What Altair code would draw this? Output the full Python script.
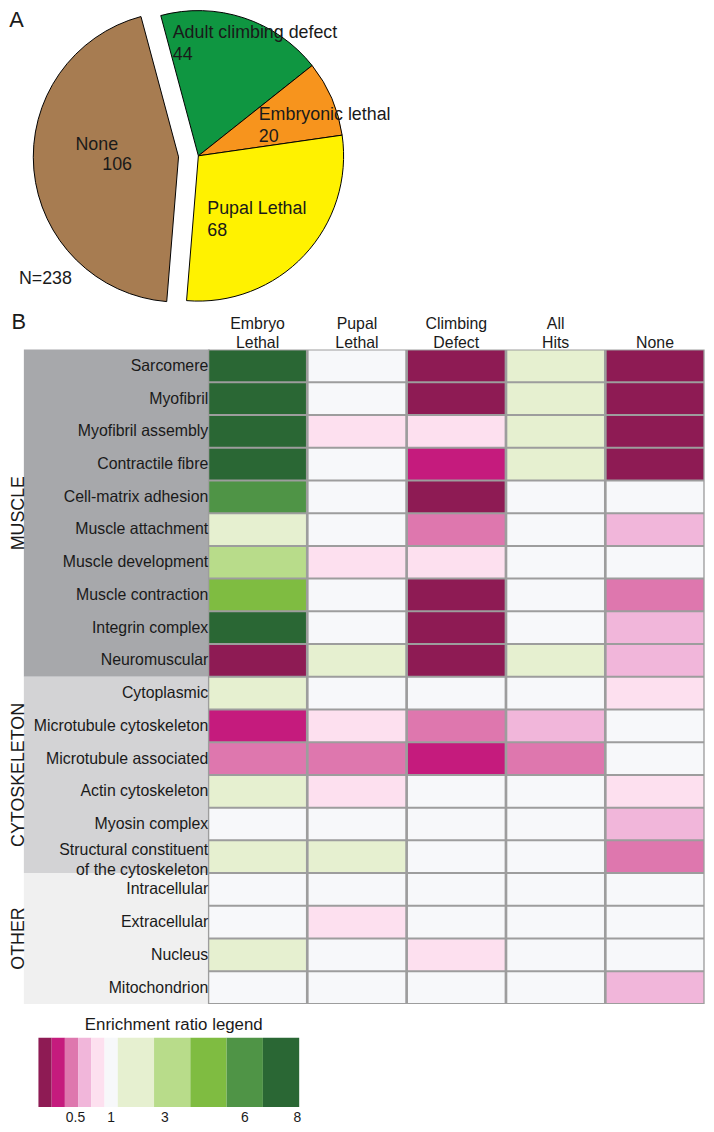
import math
import altair as alt
import pandas as pd

FONT = "Liberation Sans"
INK = "#1a1a1a"

# ---------------- Panel A : pie ----------------
pie_labels = ["Adult climbing defect", "Embryonic lethal", "Pupal Lethal", "None"]
pie_counts = [44, 20, 68, 106]
pie_colors = ["#0f9641", "#f7941d", "#fff200", "#a77c51"]

# ---------------- Panel B : heatmap ----------------
col_names = ["Embryo\nLethal", "Pupal\nLethal", "Climbing\nDefect", "All\nHits", "None"]
terms = [
    "Sarcomere", "Myofibril", "Myofibril assembly", "Contractile fibre",
    "Cell-matrix adhesion", "Muscle attachment", "Muscle development",
    "Muscle contraction", "Integrin complex", "Neuromuscular",
    "Cytoplasmic", "Microtubule cytoskeleton", "Microtubule associated",
    "Actin cytoskeleton", "Myosin complex",
    "Structural constituent\nof the cytoskeleton",
    "Intracellular", "Extracellular", "Nucleus", "Mitochondrion",
]
term_groups = ["MUSCLE"] * 10 + ["CYTOSKELETON"] * 6 + ["OTHER"] * 4
groups = ["MUSCLE", "CYTOSKELETON", "OTHER"]
group_colors = ["#a7a8ab", "#d3d3d5", "#f0f0f0"]

# enrichment class per term (0 = strongest depletion ... 5 = ~1 ... 10 = strongest enrichment)
embryo_lethal   = [10, 10, 10, 10, 9, 6, 7, 8, 10, 0, 6, 1, 2, 6, 5, 6, 5, 5, 6, 5]
pupal_lethal    = [5, 5, 4, 5, 5, 5, 4, 5, 5, 6, 5, 4, 2, 4, 5, 6, 5, 4, 5, 5]
climbing_defect = [0, 0, 4, 1, 0, 2, 4, 0, 0, 0, 5, 2, 1, 5, 5, 5, 5, 5, 4, 5]
all_hits        = [6, 6, 6, 6, 5, 5, 5, 5, 5, 6, 5, 3, 2, 5, 5, 5, 5, 5, 5, 5]
none_col        = [0, 0, 0, 0, 5, 3, 5, 2, 3, 3, 4, 5, 5, 4, 3, 2, 5, 5, 5, 3]

class_colors = ["#8e1b54", "#c51b7d", "#de77ae", "#f1b6da", "#fde0ef", "#f7f8fa",
                "#e6f0d0", "#b8dc8a", "#7fbc41", "#4f9446", "#2a6734"]

legend_title = "Enrichment ratio legend"
legend_tick_pos = [2.8, 5.5, 7.3, 9.5, 10.95]
legend_tick_labels = ["0.5", "1", "3", "6", "8"]

# ---------------- tables ----------------
total = sum(pie_counts)
pie_df = pd.DataFrame({"label": pie_labels, "count": pie_counts})
pie_df["end"] = pie_df["count"].cumsum()
pie_df["start"] = pie_df["end"] - pie_df["count"]
pie_df["mid"] = (pie_df["start"] + pie_df["end"]) / 2
pie_df["txt"] = pie_df["label"] + "\n" + pie_df["count"].astype(str)
pie_df["cnt"] = pie_df["count"].astype(str)

columns_vals = [embryo_lethal, pupal_lethal, climbing_defect, all_hits, none_col]
rows = []
for j, vals in enumerate(columns_vals):
    for i, v in enumerate(vals):
        rows.append({"r0": i, "r1": i + 1, "c0": j, "c1": j + 1, "cls": v})
heat_df = pd.DataFrame(rows)
bg_df = pd.DataFrame({"r0": [0], "r1": [len(terms)], "c0": [0], "c1": [len(col_names)]})
term_df = pd.DataFrame({"term": terms, "rm": [i + 0.5 for i in range(len(terms))],
                        "multi": ["\n" in t for t in terms]})
grp_rows = []
for g in groups:
    idx = [i for i, tg in enumerate(term_groups) if tg == g]
    grp_rows.append({"group": g, "r0": min(idx), "r1": max(idx) + 1,
                     "gm": (min(idx) + max(idx) + 1) / 2})
grp_df = pd.DataFrame(grp_rows)
head_df = pd.DataFrame({
    "cm": [j + 0.5 for j in range(len(col_names))],
    "h1": [c.split("\n")[0] if "\n" in c else "" for c in col_names],
    "h2": [c.split("\n")[-1] for c in col_names],
})
leg_df = pd.DataFrame({"i0": list(range(len(class_colors))),
                       "i1": [i + 1 for i in range(len(class_colors))],
                       "cls": list(range(len(class_colors)))})
tick_df = pd.DataFrame({"pos": legend_tick_pos, "lab": legend_tick_labels})
note_df = pd.DataFrame({"A": ["A"], "B": ["B"], "N": [f"N={total}"], "T": [legend_title]})

# ---------------- scales ----------------
A0 = 2 * math.pi - math.radians(15)
theta_scale = alt.Scale(domain=[0, total], range=[A0, A0 + 2 * math.pi])
pie_color = alt.Scale(domain=pie_labels, range=pie_colors)
xs = alt.Scale(domain=[0, len(col_names)], range=[201.65, 702.65], nice=False, zero=False)
ys = alt.Scale(domain=[0, len(terms)], range=[339.7, 999.7], nice=False, zero=False)
cls_scale = alt.Scale(domain=list(range(len(class_colors))), range=class_colors)
grp_scale = alt.Scale(domain=groups, range=group_colors)
ls = alt.Scale(domain=[0, 6, 11], range=[30.7, 110.7, 293.7], nice=False, zero=False)

MAIN = (192, 144.3)
NONE_C = (172, 145.3)
R = 146.5

layers = []

# pie slices
layers.append(
    alt.Chart(pie_df).transform_filter(alt.datum.label != "None")
    .mark_arc(outerRadius=R, stroke="black", strokeWidth=1, x=MAIN[0], y=MAIN[1])
    .encode(theta=alt.Theta("start:Q", scale=theta_scale), theta2="end:Q",
            color=alt.Color("label:N", scale=pie_color, legend=None))
)
layers.append(
    alt.Chart(pie_df).transform_filter(alt.datum.label == "None")
    .mark_arc(outerRadius=R, stroke="black", strokeWidth=1, x=NONE_C[0], y=NONE_C[1])
    .encode(theta=alt.Theta("start:Q", scale=theta_scale), theta2="end:Q",
            color=alt.Color("label:N", scale=pie_color, legend=None))
)


def pie_text(label, field, center, r, dx, dy):
    return (
        alt.Chart(pie_df).transform_filter(alt.datum.label == label)
        .mark_text(x=center[0], y=center[1], radius=r, dx=dx, dy=dy, align="left",
                   baseline="alphabetic", fontSize=18, font=FONT, color=INK,
                   lineHeight=22.5, lineBreak="\n")
        .encode(theta=alt.Theta("mid:Q", scale=theta_scale), text=f"{field}:N")
    )


layers.append(pie_text("Adult climbing defect", "txt", MAIN, 120, -63.5, -5))
layers.append(pie_text("Embryonic lethal", "txt", MAIN, 75, -8, -6.5))
layers.append(pie_text("Pupal Lethal", "txt", MAIN, 70, -42, 10.7))
layers.append(pie_text("None", "label", NONE_C, 100, -4.4, -16.3))
layers.append(pie_text("None", "cnt", NONE_C, 80, 2.7, 6.5))

# annotations
layers.append(alt.Chart(note_df).mark_text(x=1.3, y=14.3, align="left", baseline="alphabetic",
                                           fontSize=22, font=FONT, color=INK).encode(text="A:N"))
layers.append(alt.Chart(note_df).mark_text(x=3.6, y=318.7, align="left", baseline="alphabetic",
                                           fontSize=22, font=FONT, color=INK).encode(text="B:N"))
layers.append(alt.Chart(note_df).mark_text(x=11, y=274, align="left", baseline="alphabetic",
                                           fontSize=18, font=FONT, color=INK).encode(text="N:N"))

# heatmap: group panels
layers.append(
    alt.Chart(grp_df).mark_rect(x=16, x2=203.65)
    .encode(y=alt.Y("r0:Q", scale=ys, axis=None), y2="r1:Q",
            color=alt.Color("group:N", scale=grp_scale, legend=None))
)
layers.append(
    alt.Chart(grp_df).mark_text(x=16.3, angle=270, align="center", baseline="alphabetic",
                                fontSize=18, font=FONT, color=INK)
    .encode(y=alt.Y("gm:Q", scale=ys, axis=None), text="group:N")
)
# grid background + cells
layers.append(
    alt.Chart(bg_df).mark_rect(color="#9d9d9d")
    .encode(x=alt.X("c0:Q", scale=xs, axis=None), x2="c1:Q",
            y=alt.Y("r0:Q", scale=ys, axis=None), y2="r1:Q")
)
layers.append(
    alt.Chart(heat_df).mark_rect(xOffset=1.35, x2Offset=-1.35, yOffset=1, y2Offset=-1)
    .encode(x=alt.X("c0:Q", scale=xs, axis=None), x2="c1:Q",
            y=alt.Y("r0:Q", scale=ys, axis=None), y2="r1:Q",
            color=alt.Color("cls:O", scale=cls_scale, legend=None))
)
# row labels (single-line, then the two-line one)
layers.append(
    alt.Chart(term_df).transform_filter("!datum.multi")
    .mark_text(x=202, align="right", baseline="middle", fontSize=16,
               font=FONT, color=INK)
    .encode(y=alt.Y("rm:Q", scale=ys, axis=None), text="term:N")
)
layers.append(
    alt.Chart(term_df).transform_filter("datum.multi")
    .mark_text(x=202, dy=-7, align="right", baseline="middle", fontSize=16,
               font=FONT, color=INK, lineHeight=20, lineBreak="\n")
    .encode(y=alt.Y("rm:Q", scale=ys, axis=None), text="term:N")
)
# column headers
layers.append(
    alt.Chart(head_df).mark_text(y=319.3, align="center", baseline="alphabetic", fontSize=16,
                                 font=FONT, color=INK)
    .encode(x=alt.X("cm:Q", scale=xs, axis=None), text="h1:N")
)
layers.append(
    alt.Chart(head_df).mark_text(y=338, align="center", baseline="alphabetic", fontSize=16,
                                 font=FONT, color=INK)
    .encode(x=alt.X("cm:Q", scale=xs, axis=None), text="h2:N")
)

# legend
layers.append(
    alt.Chart(note_df).mark_text(x=167.2, y=1026.3, align="center", baseline="alphabetic",
                                 fontSize=17, font=FONT, color=INK).encode(text="T:N")
)
layers.append(
    alt.Chart(leg_df).mark_rect(y=1033.7, y2=1103.7)
    .encode(x=alt.X("i0:Q", scale=ls, axis=None), x2="i1:Q",
            color=alt.Color("cls:O", scale=cls_scale, legend=None))
)
layers.append(
    alt.Chart(tick_df).mark_text(y=1118.7, align="center", baseline="alphabetic", fontSize=14,
                                 font=FONT, color=INK)
    .encode(x=alt.X("pos:Q", scale=ls, axis=None), text="lab:N")
)

chart = (
    alt.layer(*layers)
    .resolve_scale(x="independent", y="independent", theta="independent", color="independent")
    .properties(width=704, height=1120, padding=0, autosize="none")
    .configure_view(stroke=None)
)

chart.save("out.html", embed_options={"renderer": "svg", "actions": False})
